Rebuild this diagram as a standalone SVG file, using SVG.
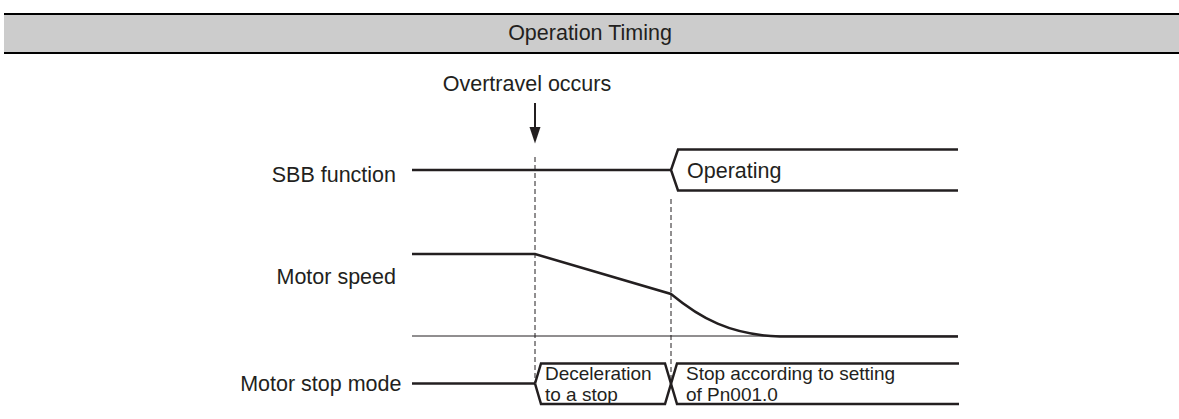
<svg xmlns="http://www.w3.org/2000/svg" width="1179" height="419" viewBox="0 0 1179 419">
<style>
  text { font-family: "Liberation Sans", Arial, sans-serif; fill: #231f20; }
  .lbl { font-size: 21.5px; }
  .box { font-size: 19px; }
  .sig { fill: none; stroke: #231f20; stroke-width: 2.5; stroke-linejoin: miter; }
  .thin { fill: none; stroke: #231f20; stroke-width: 1; }
  .dash { fill: none; stroke: #231f20; stroke-width: 1; stroke-dasharray: 5 3; }
</style>
<g id="header">
  <rect x="4" y="14" width="1175" height="39" fill="#cccccc"/>
  <line x1="4" y1="14" x2="1179" y2="14" stroke="#000" stroke-width="2"/>
  <line x1="4" y1="53" x2="1179" y2="53" stroke="#000" stroke-width="2"/>
  <text class="lbl" x="590" y="40" text-anchor="middle">Operation Timing</text>
</g>
<g id="event">
  <text class="lbl" x="527" y="91" text-anchor="middle">Overtravel occurs</text>
  <line x1="535" y1="103" x2="535" y2="130" stroke="#231f20" stroke-width="2"/>
  <polygon points="529.5,127 540.5,127 535,143.5" fill="#231f20"/>
</g>
<g id="labels">
  <text class="lbl" x="396" y="181.5" text-anchor="end">SBB function</text>
  <text class="lbl" x="396" y="284" text-anchor="end">Motor speed</text>
  <text class="lbl" x="401.5" y="391" text-anchor="end">Motor stop mode</text>
</g>
<g id="connectors">
  <line class="dash" x1="535" y1="157" x2="535" y2="383"/>
  <line class="dash" x1="671" y1="199" x2="671" y2="383"/>
</g>
<g id="sbb">
  <path class="sig" d="M412,170 H671"/>
  <path class="sig" d="M958,149.5 H678 L671,170 L678,190.5 H958"/>
  <text class="lbl" x="687" y="177.5">Operating</text>
</g>
<g id="speed">
  <line class="thin" x1="412" y1="336" x2="958" y2="336"/>
  <path class="sig" d="M412,254 H535 L671,294 C700,318 730,335 780,336.5 H958"/>
</g>
<g id="stopmode">
  <path class="sig" d="M412,383.5 H535"/>
  <path class="sig" d="M535,383.5 L541,363.5 H665 L677,404 H959"/>
  <path class="sig" d="M535,383.5 L541,404 H665 L677,363.5 H959"/>
  <text class="box" x="545" y="380">Deceleration</text>
  <text class="box" x="545" y="401">to a stop</text>
  <text class="box" x="686" y="380">Stop according to setting</text>
  <text class="box" x="686" y="401">of Pn001.0</text>
</g>
</svg>
